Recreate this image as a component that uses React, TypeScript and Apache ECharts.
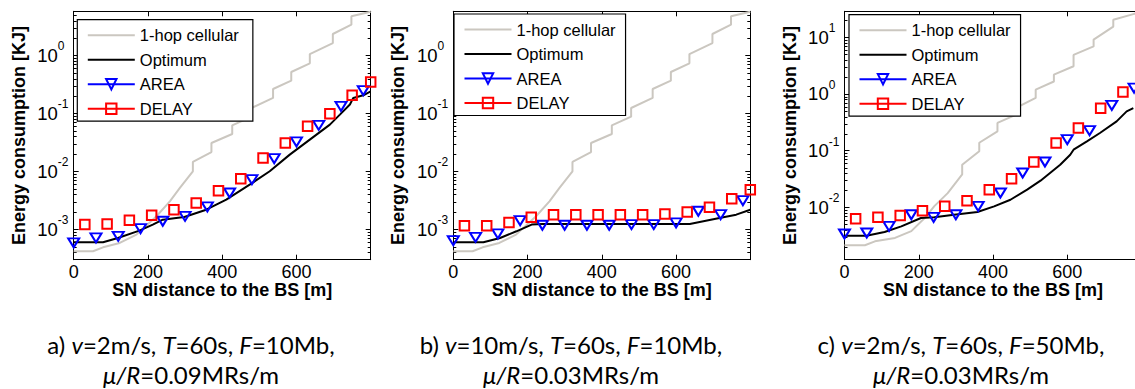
import React, { useEffect, useRef } from "react";
import * as echarts from "echarts";

const FONT = '"Liberation Sans", Arial, Helvetica, sans-serif';
const CAPTION_FONT = 'Lato, "Open Sans", sans-serif';

// ---------- texts ----------
const SERIES_NAMES = ["1-hop cellular", "Optimum", "AREA", "DELAY"];
const X_TITLE = "SN distance to the BS [m]";
const Y_TITLE = "Energy consumption [KJ]";
const X_MIN = 0;
const X_MAX = 800;
const X_STEP = 200;
const X_HIDDEN_LABELS = [800];

const captionLabels = ["a)", "b)", "c)"];
const captionSpeed = ["2m/s", "10m/s", "2m/s"];
const captionPeriod = ["60s", "60s", "60s"];
const captionFile = ["10Mb", "10Mb", "50Mb"];
const captionRatio = ["0.09MRs/m", "0.03MRs/m", "0.03MRs/m"];

// ---------- data ----------
const areaX = [0, 60, 120, 180, 240, 300, 360, 420, 480, 540, 600, 660, 720, 780];
const delayX = [30, 90, 150, 210, 270, 330, 390, 450, 510, 570, 630, 690, 750, 800];

// panel a
const areaA = [5.78e-4, 7.05e-4, 7.53e-4, 1.02e-3, 1.37e-3, 1.67e-3, 2.42e-3, 4.22e-3, 7.16e-3, 0.0165, 0.0321, 0.0622, 0.132, 0.247];
const delayA = [1.2e-3, 1.23e-3, 1.42e-3, 1.74e-3, 2.17e-3, 2.84e-3, 4.63e-3, 7.46e-3, 0.017, 0.0308, 0.0598, 0.0989, 0.205, 0.349];
const optimumA = [
  [0, 5.93e-4], [79, 5.93e-4], [119, 7.05e-4], [177, 9.44e-4], [213, 1.2e-3], [240, 1.46e-3],
  [276, 1.56e-3], [298, 1.62e-3], [357, 2.17e-3], [411, 3.24e-3], [474, 5.87e-3], [528, 0.01],
  [582, 0.0194], [636, 0.0352], [690, 0.064], [717, 0.0951], [744, 0.142], [753, 0.185],
  [780, 0.205], [800, 0.24],
];
// 1-hop cellular, F = 10Mb (panels a and b)
const hopCellular10Mb = [
  [0, 4.15e-4], [52, 4.15e-4], [79, 4.86e-4], [124, 5.78e-4], [169, 8.05e-4], [223, 1.67e-3],
  [259, 3.03e-3], [286, 5.15e-3], [321, 0.01], [321, 0.0145], [371, 0.0215], [371, 0.0308],
  [427, 0.0441], [427, 0.0622], [479, 0.0879], [479, 0.124], [537, 0.185], [537, 0.264],
  [586, 0.368], [586, 0.519], [636, 0.733], [636, 1.06], [698, 1.64], [698, 2.35],
  [748, 3.41], [748, 4.75], [800, 5.7],
];

// panel b
const areaB = [6.34e-4, 7.24e-4, 8.27e-4, 1.4e-3, 1.17e-3, 1.17e-3, 1.17e-3, 1.17e-3, 1.2e-3, 1.2e-3, 1.28e-3, 2.04e-3, 1.78e-3, 3.11e-3];
const delayB = [1.15e-3, 1.15e-3, 1.31e-3, 1.6e-3, 1.78e-3, 1.78e-3, 1.78e-3, 1.78e-3, 1.78e-3, 1.83e-3, 1.98e-3, 2.39e-3, 3.37e-3, 4.82e-3];
const optimumB = [
  [0, 5.93e-4], [81, 5.93e-4], [126, 7.05e-4], [170, 9.19e-4], [211, 1.2e-3], [240, 1.23e-3],
  [637, 1.23e-3], [717, 1.56e-3], [762, 1.78e-3], [800, 2.17e-3],
];

// panel c
const areaC = [3.38e-3, 3.52e-3, 4.6e-3, 7.4e-3, 6.65e-3, 7.4e-3, 0.0104, 0.0179, 0.0403, 0.063, 0.156, 0.225, 0.63, 1.27];
const delayC = [6.3e-3, 6.65e-3, 7.2e-3, 8.7e-3, 0.0104, 0.0131, 0.0205, 0.032, 0.063, 0.136, 0.25, 0.56, 1.08];
const optimumC = [
  [0, 3.16e-3], [59, 3.16e-3], [108, 3.66e-3], [153, 4.61e-3], [206, 6.47e-3], [242, 6.65e-3],
  [295, 7.41e-3], [358, 8.26e-3], [403, 0.0104], [447, 0.0136], [492, 0.0205], [528, 0.0295],
  [581, 0.0565], [608, 0.0849], [617, 0.104], [653, 0.146], [688, 0.205], [733, 0.329],
  [760, 0.493], [778, 0.564],
];
// 1-hop cellular, F = 50Mb
const hopCellular50Mb = [
  [0, 2.14e-3], [55, 2.14e-3], [82, 2.51e-3], [136, 2.88e-3], [180, 3.8e-3], [216, 6.46e-3],
  [242, 0.0105], [278, 0.0178], [317, 0.038], [317, 0.0562], [363, 0.0977], [363, 0.138],
  [412, 0.219], [412, 0.309], [461, 0.427], [461, 0.562], [515, 0.851], [515, 1.19],
  [564, 1.66], [564, 2.19], [617, 3.09], [617, 4.9], [671, 6.92], [671, 9.12],
  [724, 15.5], [724, 20.4], [778, 25.7], [800, 28.2],
];

const yRangeAB = [2.97e-4, 5.8];
const yRangeC = [1.19e-3, 28.8];

// ---------- layout ----------
const GRID_TOP = 11.3;
const GRID_W = 297;
const GRID_H = 248.4;
const LAYOUT = [
  { left: 73.7, legendLeft: 77.3, legendTop: 19.7, legendPadRight: 14, captionX: 191 },
  { left: 453.3, legendLeft: 454, legendTop: 14, legendPadRight: 10, captionX: 571 },
  { left: 844.5, legendLeft: 849, legendTop: 14.7, legendPadRight: 10, captionX: 961 },
];

const GRAY = "#cbc7c0";
const BLUE = "#0000ff";
const RED = "#ff0000";

function zip(xs: number[], ys: number[]) {
  return ys.map((y, i) => [xs[i], y]);
}

function minorTickValues(min: number, max: number) {
  const out: number[][] = [];
  const n0 = Math.floor(Math.log10(min));
  const n1 = Math.ceil(Math.log10(max));
  for (let n = n0; n <= n1; n++) {
    for (let k = 2; k <= 9; k++) {
      const v = k * Math.pow(10, n);
      if (v > min && v < max) out.push([0, v]);
    }
  }
  return out;
}

const yLabelFormatter = (v: number) => {
  const lg = Math.log10(v);
  const r = Math.round(lg);
  if (Math.abs(lg - r) > 1e-6) return "";
  return `{b|10}{e|${r}}`;
};

const PANELS = [
  { hop: hopCellular10Mb, opt: optimumA, area: zip(areaX, areaA), delay: zip(delayX, delayA), yRange: yRangeAB },
  { hop: hopCellular10Mb, opt: optimumB, area: zip(areaX, areaB), delay: zip(delayX, delayB), yRange: yRangeAB },
  { hop: hopCellular50Mb, opt: optimumC, area: zip(areaX, areaC), delay: zip(delayX, delayC), yRange: yRangeC },
];

function buildOption() {
  const grid: any[] = [];
  const xAxis: any[] = [];
  const yAxis: any[] = [];
  const series: any[] = [];
  const legend: any[] = [];
  const graphics: any[] = [];

  const axisLine = { show: true, onZero: false, lineStyle: { color: "#000", width: 1 } };

  PANELS.forEach((p, i) => {
    const L = LAYOUT[i];
    grid.push({ left: L.left, top: GRID_TOP, width: GRID_W, height: GRID_H, outerBoundsMode: "none", containLabel: false });

    const xBase = {
      type: "value",
      gridIndex: i,
      min: X_MIN,
      max: X_MAX,
      interval: X_STEP,
      axisLine,
      axisTick: { show: true, inside: true, length: 5, lineStyle: { color: "#000", width: 1 } },
      splitLine: { show: false },
      minorTick: { show: false },
    };
    xAxis.push({
      ...xBase,
      position: "bottom",
      axisLabel: {
        show: true,
        margin: 3.5,
        color: "#000",
        fontSize: 18,
        fontFamily: FONT,
        formatter: (v: number) => (X_HIDDEN_LABELS.includes(v) ? "" : String(v)),
      },
      name: X_TITLE,
      nameLocation: "middle",
      nameGap: 21.5,
      nameMoveOverlap: false,
      nameTextStyle: { color: "#000", fontSize: 18, fontWeight: "bold", fontFamily: FONT },
    });
    xAxis.push({ ...xBase, position: "top", axisLabel: { show: false } });

    const yBase = {
      type: "log",
      logBase: 10,
      gridIndex: i,
      min: p.yRange[0],
      max: p.yRange[1],
      axisLine,
      axisTick: { show: true, inside: true, length: 5, lineStyle: { color: "#000", width: 1 } },
      splitLine: { show: false },
      minorTick: { show: false },
    };
    yAxis.push({
      ...yBase,
      position: "left",
      axisLabel: {
        show: true,
        align: "left",
        margin: 36.4,
        color: "#000",
        fontFamily: FONT,
        showMinLabel: false,
        showMaxLabel: false,
        formatter: yLabelFormatter,
        rich: {
          b: { fontSize: 18.5, fontFamily: FONT, color: "#000" },
          e: { fontSize: 12, fontFamily: FONT, color: "#000", padding: [0, 0, 18, 0] },
        },
      },
      name: Y_TITLE,
      nameLocation: "middle",
      nameGap: 46,
      nameMoveOverlap: false,
      nameTextStyle: { color: "#000", fontSize: 18, fontWeight: "bold", fontFamily: FONT },
    });
    yAxis.push({ ...yBase, position: "right", axisLabel: { show: false } });

    const xi = 2 * i;
    const yi = 2 * i;
    series.push(
      {
        type: "custom",
        name: "minor-ticks-" + i,
        xAxisIndex: xi,
        yAxisIndex: yi,
        silent: true,
        z: 1,
        data: minorTickValues(p.yRange[0], p.yRange[1]),
        encode: { x: 0, y: 1 },
        renderItem: (params: any, api: any) => {
          const pt = api.coord([0, api.value(1)]);
          const cs = params.coordSys;
          const y = Math.round(pt[1]) + 0.5;
          const st = { stroke: "#000", lineWidth: 1 };
          return {
            type: "group",
            children: [
              { type: "line", shape: { x1: cs.x, y1: y, x2: cs.x + 3, y2: y }, style: st },
              { type: "line", shape: { x1: cs.x + cs.width - 3, y1: y, x2: cs.x + cs.width, y2: y }, style: st },
            ],
          };
        },
      },
      {
        type: "line",
        name: SERIES_NAMES[0],
        xAxisIndex: xi,
        yAxisIndex: yi,
        data: p.hop,
        symbol: "none",
        lineStyle: { color: GRAY, width: 2 },
        itemStyle: { color: GRAY },
        z: 2,
      },
      {
        type: "line",
        name: SERIES_NAMES[1],
        xAxisIndex: xi,
        yAxisIndex: yi,
        data: p.opt,
        symbol: "none",
        lineStyle: { color: "#000", width: 2 },
        itemStyle: { color: "#000" },
        z: 3,
      },
      {
        type: "line",
        name: SERIES_NAMES[2],
        xAxisIndex: xi,
        yAxisIndex: yi,
        data: p.area,
        symbol: "triangle",
        symbolRotate: 180,
        symbolSize: [11, 9],
        clip: false,
        itemStyle: { color: "rgba(255,255,255,0)", borderColor: BLUE, borderWidth: 2 },
        lineStyle: { color: BLUE, width: 0 },
        z: 4,
      },
      {
        type: "line",
        name: SERIES_NAMES[3],
        xAxisIndex: xi,
        yAxisIndex: yi,
        data: p.delay,
        symbol: "rect",
        symbolSize: 9.5,
        clip: false,
        itemStyle: { color: "rgba(255,255,255,0)", borderColor: RED, borderWidth: 2 },
        lineStyle: { color: RED, width: 0 },
        z: 5,
      }
    );

    legend.push({
      show: true,
      orient: "vertical",
      left: L.legendLeft,
      top: L.legendTop,
      data: [
        { name: SERIES_NAMES[0], itemStyle: { opacity: 0 } },
        { name: SERIES_NAMES[1], itemStyle: { opacity: 0 } },
        SERIES_NAMES[2],
        SERIES_NAMES[3],
      ],
      itemWidth: 47,
      itemHeight: 13,
      itemGap: 7.5,
      padding: [7, L.legendPadRight, 4, 9.5],
      backgroundColor: "#fff",
      borderColor: "#000",
      borderWidth: 1.2,
      borderRadius: 0,
      selectedMode: false,
      lineStyle: { width: 2 },
      textStyle: { fontSize: 16.5, color: "#000", fontFamily: FONT, lineHeight: 16 },
      z: 10,
    });

    const rich = {
      n: { fontSize: 24, lineHeight: 24, fontFamily: CAPTION_FONT, fill: "#000" },
      i: { fontSize: 24, lineHeight: 24, fontFamily: CAPTION_FONT, fontStyle: "italic", fill: "#000" },
    };
    graphics.push(
      {
        type: "text",
        x: L.captionX,
        y: 344,
        style: {
          text: `{n|${captionLabels[i]} }{i|v}{n|=${captionSpeed[i]}, }{i|T}{n|=${captionPeriod[i]}, }{i|F}{n|=${captionFile[i]},}`,
          rich,
          align: "center",
          verticalAlign: "middle",
        },
      },
      {
        type: "text",
        x: L.captionX,
        y: 374,
        style: {
          text: `{i|\u03bc/R}{n|=${captionRatio[i]}}`,
          rich,
          align: "center",
          verticalAlign: "middle",
        },
      }
    );
  });

  return {
    animation: false,
    backgroundColor: "#fff",
    textStyle: { fontFamily: FONT },
    grid,
    xAxis,
    yAxis,
    legend,
    series,
    graphic: { elements: graphics },
  };
}

export default function App() {
  const ref = useRef<HTMLDivElement>(null);
  useEffect(() => {
    if (!ref.current) return;
    const chart = echarts.init(ref.current, undefined, { renderer: "svg" });
    chart.setOption(buildOption() as any);
    return () => chart.dispose();
  }, []);
  return (
    <div
      ref={ref}
      style={{ position: "absolute", left: 0, top: 0, width: 1135, height: 389, background: "#fff" }}
    />
  );
}
